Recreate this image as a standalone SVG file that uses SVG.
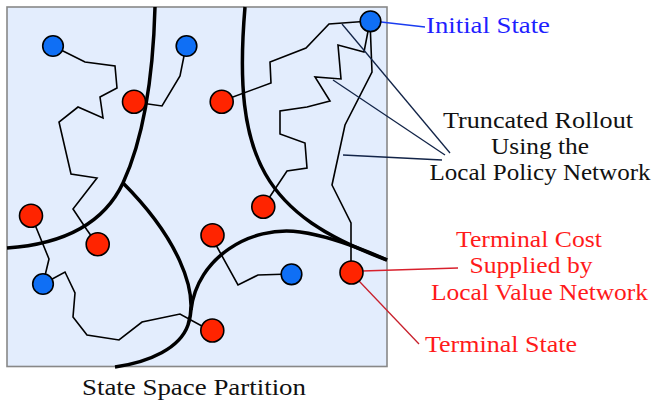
<svg xmlns="http://www.w3.org/2000/svg" width="654" height="401" viewBox="0 0 654 401">
<style>
.bd{fill:none;stroke:#000;stroke-width:3.5;stroke-linecap:butt}
.pt{fill:none;stroke:#000;stroke-width:1.6;stroke-linejoin:miter}
.blue{fill:#0f6ff5;stroke:#000;stroke-width:1.6}
.red{fill:#ff2400;stroke:#000;stroke-width:1.6}
.ld{fill:none;stroke:#122448;stroke-width:1.3}
</style>
<rect x="7" y="7" width="380" height="359.5" fill="#e3edfd" stroke="#888" stroke-width="1.6"/>
<g id="partitions">
<path class="bd" d="M155,7 Q152,120 123,183 Q95,242 7,248"/>
<path class="bd" d="M123,183 C175,235 200,290 188,325 C180,348 150,362 115,367"/>
<path class="bd" d="M245,7 C232,160 265,215 387,260"/>
<path class="bd" d="M191,310 C197,258 250,225 300,232 C330,236 360,248 387,260"/>
</g>
<g id="connectors">
<polyline class="pt" points="53,46 85,62 115,66 117,88 100,97 103,118 78,107 59,122 71,174 97,178 73,209 87,230 97,244"/>
<polyline class="pt" points="186,46 180,76 162,106 134,102"/>
<polyline class="pt" points="222,101 271,83 270,62 306,48 329,24 370,21"/>
<polyline class="pt" points="370,21 364,52 338,45 341,79 315,77 330,101 307,107 280,111 280,134 305,143 307,168 287,171 263,207"/>
<polyline class="pt" points="370,21 372,72 345,125 332,185 351,223 351,272"/>
<polyline class="pt" points="31,215 49,259 43,284"/>
<polyline class="pt" points="43,284 65,272 75,293 73,317 87,335 119,340 142,322 180,314 211,331"/>
<polyline class="pt" points="211,236 238,285 258,275 290,274"/>
<line x1="381" y1="22" x2="425" y2="27" stroke="#1a3cf0" stroke-width="1.3"/>
<line class="ld" x1="342" y1="24" x2="450" y2="153"/>
<line class="ld" x1="333" y1="80" x2="445" y2="155"/>
<line class="ld" x1="343" y1="155" x2="442" y2="160"/>
<line x1="362" y1="271" x2="458" y2="268" stroke="#d8202c" stroke-width="1.3"/>
<line x1="359" y1="281" x2="419" y2="344" stroke="#c8202c" stroke-width="1.3"/>
</g>
<g id="n-b1"><circle class="blue" cx="53" cy="46" r="10.3"/></g>
<g id="n-b2"><circle class="blue" cx="186.5" cy="46" r="10.3"/></g>
<g id="n-init"><circle class="blue" cx="370.5" cy="21.3" r="10.3"/></g>
<g id="n-b4"><circle class="blue" cx="43" cy="284" r="10.3"/></g>
<g id="n-b5"><circle class="blue" cx="291.5" cy="274.3" r="10.3"/></g>
<g id="n-r1"><circle class="red" cx="134" cy="101.7" r="11.5"/></g>
<g id="n-r2"><circle class="red" cx="221.7" cy="101.7" r="11.5"/></g>
<g id="n-r3"><circle class="red" cx="31" cy="215.7" r="11.5"/></g>
<g id="n-r4"><circle class="red" cx="97.7" cy="244.3" r="11.5"/></g>
<g id="n-r5"><circle class="red" cx="263.3" cy="206.7" r="11.5"/></g>
<g id="n-r6"><circle class="red" cx="212.5" cy="235.3" r="11.5"/></g>
<g id="n-r7"><circle class="red" cx="212.3" cy="330.5" r="11.5"/></g>
<g id="n-term"><circle class="red" cx="351.5" cy="272.5" r="11.5"/></g>
<g id="labels">
<text x="426" y="33" font-family="Liberation Serif" font-size="24" fill="#1f1fff" textLength="124" lengthAdjust="spacingAndGlyphs">Initial State</text>
<text x="443" y="128" font-family="Liberation Serif" font-size="24" fill="#111" textLength="190" lengthAdjust="spacingAndGlyphs">Truncated Rollout</text>
<text x="491" y="154" font-family="Liberation Serif" font-size="24" fill="#111" textLength="98" lengthAdjust="spacingAndGlyphs">Using the</text>
<text x="429.5" y="180" font-family="Liberation Serif" font-size="24" fill="#111" textLength="221" lengthAdjust="spacingAndGlyphs">Local Policy Network</text>
<text x="456" y="247" font-family="Liberation Serif" font-size="24" fill="#ff1a1a" textLength="146" lengthAdjust="spacingAndGlyphs">Terminal Cost</text>
<text x="469.5" y="273" font-family="Liberation Serif" font-size="24" fill="#ff1a1a" textLength="123" lengthAdjust="spacingAndGlyphs">Supplied by</text>
<text x="431" y="299.5" font-family="Liberation Serif" font-size="24" fill="#ff1a1a" textLength="217" lengthAdjust="spacingAndGlyphs">Local Value Network</text>
<text x="425" y="352" font-family="Liberation Serif" font-size="24" fill="#ff1a1a" textLength="152" lengthAdjust="spacingAndGlyphs">Terminal State</text>
<text x="82" y="395" font-family="Liberation Serif" font-size="24" fill="#111" textLength="224" lengthAdjust="spacingAndGlyphs">State Space Partition</text>
</g>
</svg>
